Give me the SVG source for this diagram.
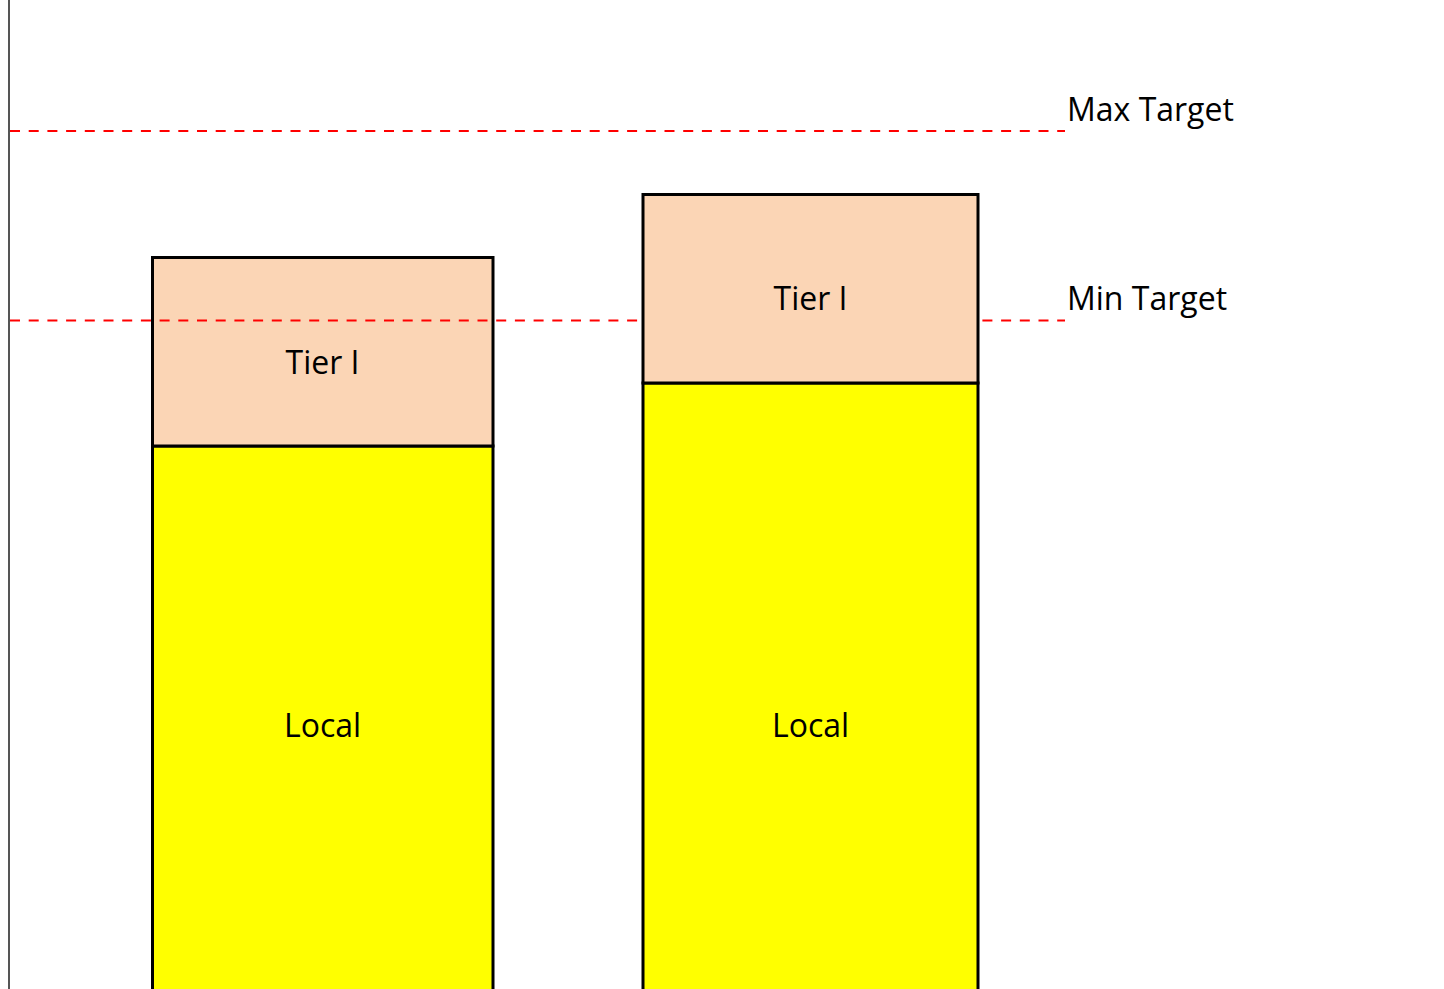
<svg xmlns="http://www.w3.org/2000/svg" width="1444" height="989" viewBox="0 0 1444 989">
  <style>
    .lbl { font-family: "Open Sans", "Liberation Sans", sans-serif; font-size: 32px; fill: #000; }
    .mid { text-anchor: middle; }
    .tier { fill: #fbd5b5; stroke: #000; stroke-width: 3; }
    .local { fill: #ffff00; stroke: #000; stroke-width: 3; }
    .target { stroke: #ff0000; stroke-width: 2.2; stroke-dasharray: 10 8.7; fill: none; }
  </style>
  <rect width="1444" height="989" fill="#fff"/>

  <!-- vertical axis -->
  <line x1="9" y1="0" x2="9" y2="989" stroke="#555" stroke-width="2"/>

  <!-- max target line -->
  <g id="connectors">
    <line class="target" x1="10" y1="131" x2="1065" y2="131"/>
  </g>

  <!-- left stacked bar -->
  <g id="bar-left">
    <rect class="local" x="152.5" y="446" width="340.5" height="550"/>
    <rect class="tier" x="152.5" y="257.5" width="340.5" height="188.5"/>
    <text class="lbl mid" x="322.5" y="374">Tier I</text>
    <text class="lbl mid" x="322.5" y="737">Local</text>
  </g>

  <!-- min target line: runs over the left bar, under the right bar -->
  <g id="min-line">
    <line class="target" x1="10" y1="320.5" x2="1065" y2="320.5"/>
  </g>

  <!-- right stacked bar -->
  <g id="bar-right">
    <rect class="local" x="643" y="383" width="335" height="620"/>
    <rect class="tier" x="643" y="194.5" width="335" height="188.5"/>
    <text class="lbl mid" x="810.5" y="310">Tier I</text>
    <text class="lbl mid" x="810.5" y="737">Local</text>
  </g>

  <!-- target labels -->
  <g id="label-max"><text class="lbl" x="1067" y="121">Max Target</text></g>
  <g id="label-min"><text class="lbl" x="1067" y="310">Min Target</text></g>
</svg>
